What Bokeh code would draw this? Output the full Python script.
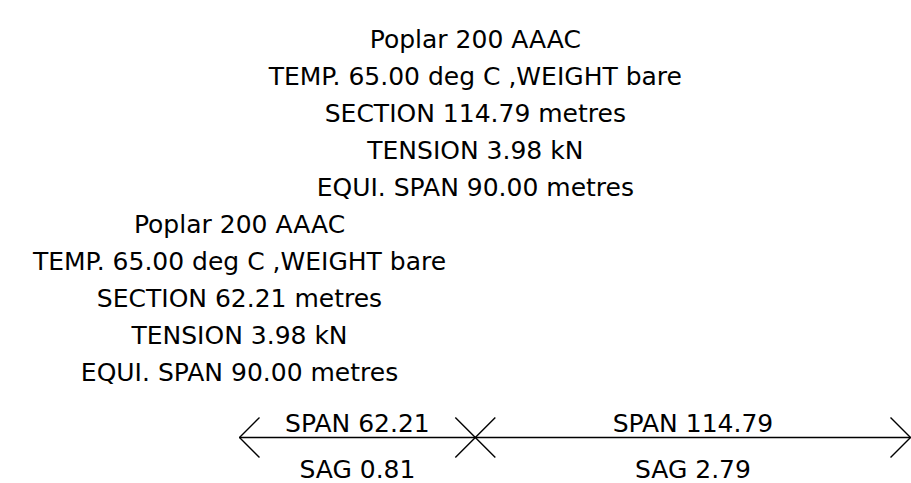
from bokeh.plotting import figure
from bokeh.embed import file_html
from bokeh.resources import INLINE
from bokeh.models import ColumnDataSource
from bokeh.core.properties import value

# ---- data ----
conductor = "Poplar 200 AAAC"
temperature = 65.00
weight = "bare"
spans = [62.21, 114.79]
sags = [0.81, 2.79]
tensions = [3.98, 3.98]
equi_spans = [90.00, 90.00]

# ---- layout constants (pixels) ----
W, H = 911, 483
PX_PER_M = 3.791
X0_PX = 239          # figure px of span start
LINE_Y_PX = 437      # figure px of the span line (from top)
ARM = 20             # arrow / cross arm length in px
LINE_H = 37          # text line spacing in px
FONT = "DejaVu Sans"
FS = "25px"

p = figure(width=W, height=H, output_backend="svg", toolbar_location=None,
           x_range=(-X0_PX / PX_PER_M, (W - X0_PX) / PX_PER_M),
           y_range=(-(H - LINE_Y_PX), LINE_Y_PX),
           min_border=0)
p.axis.visible = False
p.grid.visible = False
p.outline_line_color = None
p.background_fill_color = "white"
p.border_fill_color = "white"

armx = ARM / PX_PER_M

# support positions
supports = [0.0]
for s in spans:
    supports.append(supports[-1] + s)
total = supports[-1]

# main line
p.line([supports[0], supports[-1]], [0, 0], line_color="black", line_width=1.6)

# arrow heads at ends
xs, ys = [], []
xs += [[armx, 0, armx]]; ys += [[ARM, 0, -ARM]]
xs += [[total - armx, total, total - armx]]; ys += [[ARM, 0, -ARM]]
# crosses at intermediate supports
for sx in supports[1:-1]:
    xs += [[sx - armx, sx + armx], [sx - armx, sx + armx]]
    ys += [[ARM, -ARM], [-ARM, ARM]]
p.multi_line(xs, ys, line_color="black", line_width=1.4)

# span / sag labels
mids = [(supports[i] + supports[i + 1]) / 2 for i in range(len(spans))]
lab = ColumnDataSource(dict(
    x=mids + mids,
    y=[14] * len(spans) + [-32] * len(spans),
    t=[f"SPAN {s:.2f}" for s in spans] + [f"SAG {g:.2f}" for g in sags],
))
p.text(x="x", y="y", text="t", source=lab, text_align="center",
       text_baseline="alphabetic", text_font=value(FONT), text_font_size=FS,
       text_color="black")

# section info blocks
bx, by, bt = [], [], []
top = LINE_Y_PX - 39  # first baseline above line (px)
n = len(spans)
for i, s in enumerate(spans):
    lines = [
        conductor,
        f"TEMP. {temperature:.2f} deg C ,WEIGHT {weight}",
        f"SECTION {s:.2f} metres",
        f"TENSION {tensions[i]:.2f} kN",
        f"EQUI. SPAN {equi_spans[i]:.2f} metres",
    ]
    for j, t in enumerate(lines):
        bx.append(supports[i])
        by.append(top - ((n - 1 - i) * len(lines) + j) * LINE_H)
        bt.append(t)
p.text(x=bx, y=by, text=bt, text_align="center", text_baseline="alphabetic",
       text_font=value(FONT), text_font_size=FS, text_color="black")

open("out.html", "w").write(file_html(p, INLINE))
